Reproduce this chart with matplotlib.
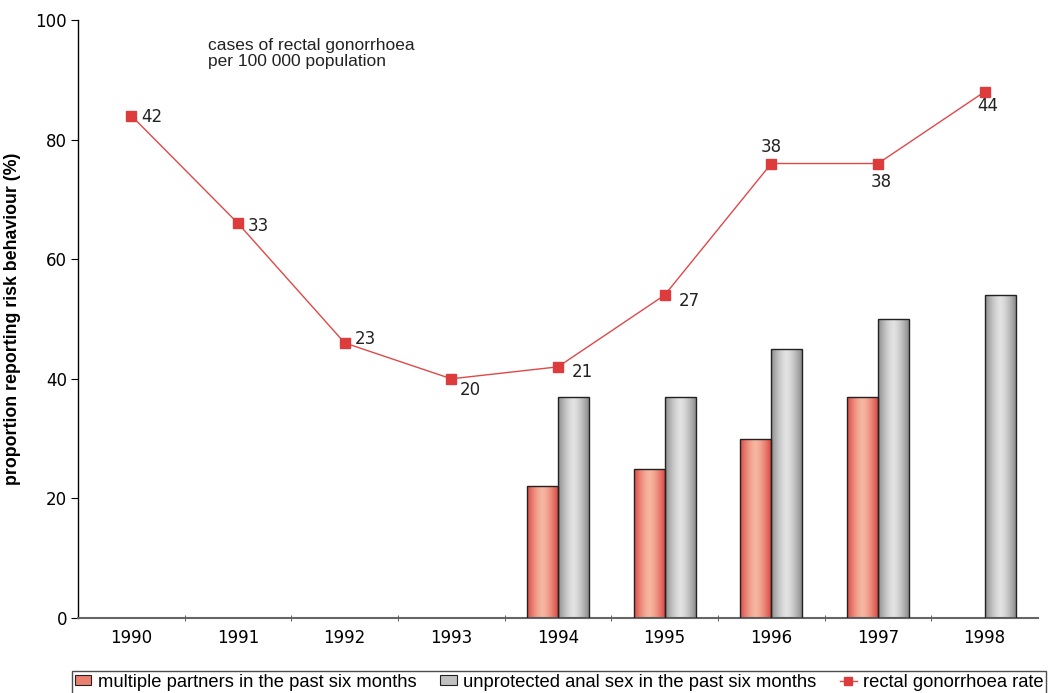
import numpy as np
import matplotlib
matplotlib.use('Agg')
import matplotlib.pyplot as plt
from matplotlib.patches import Rectangle
from matplotlib.lines import Line2D

# data
years = ['1990', '1991', '1992', '1993', '1994', '1995', '1996', '1997', '1998']
multiple_partners = [None, None, None, None, 22, 25, 30, 37, None]
unprotected_sex = [None, None, None, None, 37, 37, 45, 50, 54]
gonorrhoea_rate = [42, 33, 23, 20, 21, 27, 38, 38, 44]
# label placement for the rate values (dx, dy in points)
label_offsets = [(7, -1), (7, -2), (7, 3), (6, -8), (10, -4), (10, -4), (0, 12), (2, -13), (2, -10)]

RED = '#dc3c3c'


def gradient_bar(ax, x, h, w, edge, mid):
    # horizontal "cylinder" shading clipped to the bar rectangle
    rect = Rectangle((x, 0), w, h, facecolor='none', edgecolor='#222222', lw=1.0, zorder=3)
    ax.add_patch(rect)
    t = np.linspace(-1, 1, 64)
    s = 1 - np.abs(t) ** 1.5
    e = np.array(matplotlib.colors.to_rgb(edge))
    m = np.array(matplotlib.colors.to_rgb(mid))
    img = (e[None, :] * (1 - s[:, None]) + m[None, :] * s[:, None])[None, :, :]
    im = ax.imshow(img, extent=[x, x + w, 0, h], aspect='auto', interpolation='bilinear', zorder=2)
    im.set_clip_path(rect)


fig = plt.figure(figsize=(10.48, 6.93), dpi=100)
ax = fig.add_axes([78 / 1048, 75 / 693, 960 / 1048, 598 / 693])

xs = np.arange(len(years))
bw = 0.29
for i in xs:
    if multiple_partners[i] is not None:
        gradient_bar(ax, i - bw, multiple_partners[i], bw, '#dd4a44', '#f6b6a0')
    if unprotected_sex[i] is not None:
        gradient_bar(ax, i, unprotected_sex[i], bw, '#8c8c8c', '#e2e2e2')

# rate is drawn on the percentage scale (value x 2)
rate_scaled = [r * 2 for r in gonorrhoea_rate]
ax.plot(xs, rate_scaled, color='#e04848', lw=1.0, marker='s', ms=6.5,
        mfc=RED, mec=RED, zorder=4)
for i, r in enumerate(gonorrhoea_rate):
    dx, dy = label_offsets[i]
    ha = 'left' if dx > 3 else 'center'
    ax.annotate(str(r), (xs[i], rate_scaled[i]), xytext=(dx, dy), textcoords='offset points',
                ha=ha, va='center', fontsize=12, color='#222222', family='DejaVu Sans')

ax.text(0.72, 97, 'cases of rectal gonorrhoea\nper 100 000 population', fontsize=12.5,
        family='Liberation Sans', va='top', ha='left', linespacing=1.05, color='#222222')

ax.set_xlim(-0.5, len(years) - 0.5)
ax.set_ylim(0, 100)
ax.set_yticks([0, 20, 40, 60, 80, 100])
ax.set_xticks(xs)
ax.set_xticklabels(years)
ax.set_xticks(xs[:-1] + 0.5, minor=True)
ax.tick_params(axis='x', which='major', length=0, pad=8, labelsize=12)
ax.tick_params(axis='x', which='minor', length=5, direction='inout', color='#444444')
ax.tick_params(axis='y', length=5, direction='out', pad=3, labelsize=12)
for s in ['top', 'right']:
    ax.spines[s].set_visible(False)
ax.spines['bottom'].set_color('#666666')
ax.spines['bottom'].set_linewidth(1.5)
ax.spines['left'].set_linewidth(1.0)
ax.set_ylabel('proportion reporting risk behaviour (%)', fontsize=12.8, fontweight='bold',
              family='Liberation Sans', labelpad=10)

handles = [
    Rectangle((0, 0), 1, 1, facecolor='#ea8070', edgecolor='#222222', lw=0.8),
    Rectangle((0, 0), 1, 1, facecolor='#c0c0c0', edgecolor='#222222', lw=0.8),
    Line2D([0], [0], color='#e04848', lw=1.0, marker='s', ms=6, mfc=RED, mec=RED),
]
labels = ['multiple partners in the past six months',
          'unprotected anal sex in the past six months',
          'rectal gonorrhoea rate']
leg = fig.legend(handles, labels, loc='upper left', bbox_to_anchor=(72 / 1048, 1 - 671 / 693),
                 ncol=3, frameon=True, fancybox=False,
                 prop={'family': 'Liberation Sans', 'size': 13.2},
                 handlelength=0.9, handleheight=0.45, handletextpad=0.35, columnspacing=1.3,
                 borderpad=0.15, borderaxespad=0)
leg.get_frame().set_edgecolor('#222222')
leg.get_frame().set_linewidth(1.0)

fig.savefig('out.png', dpi=100)
